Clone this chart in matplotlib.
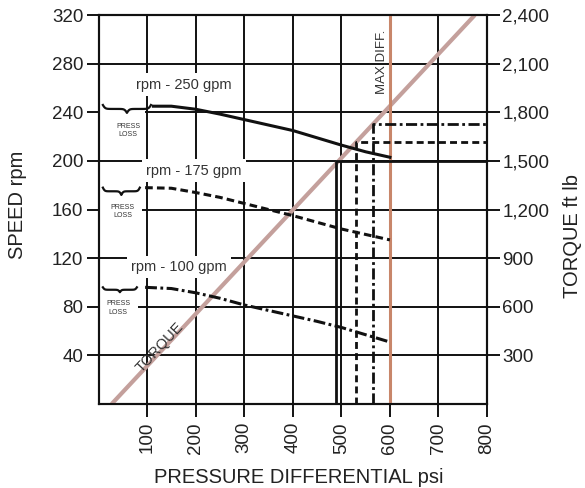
import numpy as np
import matplotlib.pyplot as plt
from matplotlib.patches import Rectangle

plt.rcParams['font.family'] = ['Liberation Sans', 'DejaVu Sans']
plt.rcParams['lines.scale_dashes'] = False

# speed curves (psi, rpm)
psi_250 = [113, 150, 200, 250, 300, 350, 400, 450, 500, 550, 600]
rpm_250 = [245, 245, 242.5, 238.5, 234, 229.5, 225, 219, 213, 207.5, 203]
psi_175 = [96, 150, 200, 250, 300, 350, 400, 450, 500, 550, 600]
rpm_175 = [178, 177.5, 174, 170, 165, 160, 155, 149.5, 144, 139.5, 135]
psi_100 = [96, 150, 200, 250, 300, 350, 400, 450, 500, 550, 600]
rpm_100 = [96, 95, 91.5, 87, 81.5, 77, 72.5, 68, 63, 57, 51]

# torque line (psi, ft lb)
torque_psi = [27, 775]
torque_ftlb = [0, 2400]

# torque reference lines for each flow
stall_psi = [489, 530, 565]
stall_ftlb = [1500, 1615, 1730]
max_diff_psi = 600

x_ticks = [100, 200, 300, 400, 500, 600, 700, 800]
speed_ticks = [40, 80, 120, 160, 200, 240, 280, 320]
torque_ticks = [300, 600, 900, 1200, 1500, 1800, 2100, 2400]
torque_labels = ['300', '600', '900', '1,200', '1,500', '1,800', '2,100', '2,400']
curve_labels = ['rpm - 250 gpm', 'rpm - 175 gpm', 'rpm - 100 gpm']


def brace_xy(x0, x1, y_top, y_bot, n=60):
    half = np.linspace(0, 0.5, n)
    k = 40
    h = 1 / (1 + np.exp(-k * half)) + 1 / (1 + np.exp(-k * (half - 0.5)))
    h = np.concatenate([h, h[::-1][1:]])
    xs = np.linspace(x0, x1, len(h))
    ys = y_top - (h - 0.5) * (y_top - y_bot)
    return xs, ys


fig = plt.figure(figsize=(5.85, 4.88), dpi=100)
ax = fig.add_axes([0.1684, 0.1721, 0.6641, 0.7971])
ax2 = ax.twinx()

ax.set_xlim(0, 800)
ax.set_ylim(0, 320)
ax2.set_ylim(0, 2400)
ax.autoscale(False)

ax.set_axisbelow(True)
ax.set_xticks(x_ticks)
ax.set_yticks(speed_ticks)
ax2.set_yticks(torque_ticks)
ax2.set_yticklabels(torque_labels)
ax.grid(True, color='#111111', lw=1.4)

for a in (ax, ax2):
    for s in a.spines.values():
        s.set_color('#111111')
        s.set_linewidth(1.5)
ax.tick_params(direction='out', length=9, width=1.3, labelsize=13.5,
               labelcolor='#222222', pad=2)
ax.tick_params(axis='x', labelrotation=90, pad=4)
ax2.tick_params(direction='out', length=9, width=1.3, labelsize=13.5,
                labelcolor='#222222', pad=2)

# curve labels with white boxes
lab_pos = [(176, 262.6), (197, 192), (166, 112.8)]
for (lx, ly), t in zip(lab_pos, curve_labels):
    ax.text(lx, ly, t, ha='center', va='center', fontsize=10.5, color='#333333',
            zorder=2, bbox=dict(fc='white', ec='none', boxstyle='square,pad=0.3'))

# press loss braces
braces = [(9, 108, 246, 239.5), (9, 85, 178, 172), (9, 79, 96, 92)]
pl_pos = [(61, 225), (50, 158.5), (40, 79)]
rect_right = [96, 89, 82]
for (b0, b1, bt, bb), (px, py), rr in zip(braces, pl_pos, rect_right):
    ax.add_patch(Rectangle((0, py - 7), rr, bt - py + 8, fc='white', ec='none', zorder=1))
    bx, by = brace_xy(b0, b1, bt, bb)
    ax.plot(bx, by, color='#111111', lw=1.6, zorder=4)
    ax.text(px, py, 'PRESS\nLOSS', ha='center', va='center', fontsize=5,
            color='#333333', linespacing=1.3, zorder=4)

# torque line and max diff
ax.plot(torque_psi, torque_ftlb, color='#c4a09c', lw=3.0, zorder=3,
        transform=ax2.transData, solid_capstyle='butt')
ax.axvline(max_diff_psi, color='#c8866a', lw=2.2, zorder=3)

# torque reference lines
styles = [dict(ls='-'), dict(dashes=(5, 3)), dict(dashes=(8, 2.5, 2, 2.5))]
for sp, sf, st in zip(stall_psi, stall_ftlb, styles):
    ax.plot([sp, sp, 800], [0, sf, sf], color='#111111', lw=2.0, zorder=4,
            transform=ax2.transData, **st)

# speed curves
ax.plot(psi_250, rpm_250, color='#111111', lw=2.2, zorder=5)
ax.plot(psi_175, rpm_175, color='#111111', lw=2.2, zorder=5, dashes=(5.5, 3))
ax.plot(psi_100, rpm_100, color='#111111', lw=2.2, zorder=5, dashes=(8.5, 2.5, 2, 2.5))

ax.text(583.7, 281.4, 'MAX DIFF.', rotation=90, ha='center', va='center',
        fontsize=9.5, color='#333333', zorder=6)
ax.text(127, 47, 'TORQUE', rotation=47, ha='center', va='center',
        fontsize=10.5, color='#333333', zorder=6)

fig.text(299 / 585, 1 - 483 / 488, 'PRESSURE DIFFERENTIAL psi', ha='center',
         va='baseline', fontsize=14.5, color='#222222')
fig.text(17.5 / 585, 1 - 205 / 488, 'SPEED rpm', rotation=90, ha='center',
         va='center', fontsize=14.5, color='#222222')
fig.text(572 / 585, 1 - 236 / 488, 'TORQUE ft lb', rotation=90, ha='center',
         va='center', fontsize=14.5, color='#222222')

fig.savefig('out.png', dpi=100)
